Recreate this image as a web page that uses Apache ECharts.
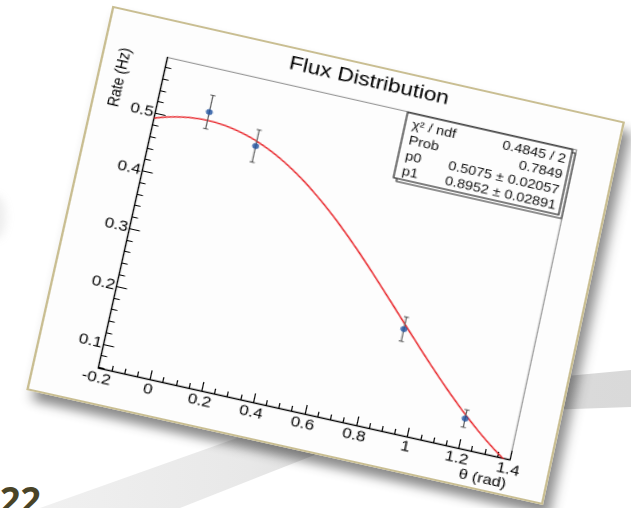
<!DOCTYPE html>
<html><head><meta charset="utf-8">
<script src="https://cdn.jsdelivr.net/npm/echarts@6/dist/echarts.min.js"></script>
<style>
html,body{margin:0;padding:0;width:631px;height:508px;overflow:hidden;background:#fff;position:relative;}
.sw{position:absolute;left:0;top:0;width:631px;height:508px;}
#swR{background:linear-gradient(to right,#e8e8e8,#d9d9d9);clip-path:polygon(545px 378px,631px 370px,631px 407px,545px 410px);}
#swL{background:linear-gradient(to right,#f2f2f2 0px,#e8e8e8 250px,#dedede 340px);clip-path:polygon(40px 508px,330px 405px,340px 445px,180px 508px);}
#blob{position:absolute;left:-14px;top:195px;width:20px;height:44px;border-radius:50%;background:rgba(120,120,120,0.13);filter:blur(4px);}
#num{position:absolute;left:0;top:482px;font:bold 36px "Open Sans","DejaVu Sans",sans-serif;line-height:36px;color:#4a4427;}
#paper{position:absolute;left:0;top:0;width:450px;height:392px;transform-origin:0 0;background:#fdfdfd;box-shadow:7px 9px 10px rgba(0,0,0,0.45);}
#chart{position:absolute;left:0;top:0;width:450px;height:392px;}
#frame{position:absolute;left:0;top:0;width:450px;height:392px;border:2px solid #c9be92;box-sizing:border-box;pointer-events:none;}
</style></head>
<body>
<div class="sw" id="swR"></div>
<div class="sw" id="swL"></div>
<div id="blob"></div>
<div id="num">22</div>
<div id="paper"><div id="chart"></div><div id="frame"></div></div>
<script>
// ---- data ----
const pointTheta = [0.0, 0.2, 0.9, 1.2];
const pointRate  = [0.522, 0.483, 0.235, 0.110];
const rateErr    = [0.029, 0.028, 0.021, 0.015];

const curveTheta = [-0.2,-0.15,-0.1,-0.05,0,0.05,0.1,0.15,0.2,0.25,0.3,0.35,0.4,0.45,0.5,0.55,0.6,0.65,0.7,0.75,0.8,0.85,0.9,0.95,1.0,1.05,1.1,1.15,1.2,1.25,1.3,1.35,1.4];
const curveRate  = [0.4914,0.4984,0.5034,0.5065,0.5075,0.5065,0.5034,0.4984,0.4914,0.4825,0.4718,0.4593,0.4452,0.4295,0.4124,0.3941,0.3746,0.3542,0.3330,0.3111,0.2888,0.2663,0.2436,0.2211,0.1988,0.1770,0.1558,0.1354,0.1159,0.0976,0.0805,0.0648,0.0506];

const yMajorTicks = [0.1, 0.2, 0.3, 0.4, 0.5];
const yMinorTicks = [0.06,0.08,0.12,0.14,0.16,0.18,0.22,0.24,0.26,0.28,0.32,0.34,0.36,0.38,0.42,0.44,0.46,0.48,0.52,0.54,0.56,0.58];
const statLabels = ['\u03c7\u00b2 / ndf', 'Prob', 'p0', 'p1'];
const statValues = ['0.4845 / 2', '0.7849', '0.5075 \u00b1 0.02057', '0.8952 \u00b1 0.02891'];

// ---- perspective placement of the "paper" ----
function solve(A,b){const n=b.length;for(let i=0;i<n;i++){let m=i;for(let r=i+1;r<n;r++)if(Math.abs(A[r][i])>Math.abs(A[m][i]))m=r;[A[i],A[m]]=[A[m],A[i]];[b[i],b[m]]=[b[m],b[i]];for(let r=i+1;r<n;r++){const f=A[r][i]/A[i][i];for(let c=i;c<n;c++)A[r][c]-=f*A[i][c];b[r]-=f*b[i];}}const x=new Array(n).fill(0);for(let i=n-1;i>=0;i--){let s=b[i];for(let c=i+1;c<n;c++)s-=A[i][c]*x[c];x[i]=s/A[i][i];}return x;}
function homography(src,dst){const A=[],b=[];for(let i=0;i<4;i++){const [x,y]=src[i],[X,Y]=dst[i];A.push([x,y,1,0,0,0,-x*X,-y*X]);b.push(X);A.push([0,0,0,x,y,1,-x*Y,-y*Y]);b.push(Y);}return solve(A,b);}
const PW=450, PH=392;
const h=homography([[0,0],[PW,0],[PW,PH],[0,PH]],[[112.3,5.7],[625,121.7],[543,505],[26.2,390]]);
document.getElementById('paper').style.transform='matrix3d('+[h[0],h[3],0,h[6],h[1],h[4],0,h[7],0,0,1,0,h[2],h[5],0,1].join(',')+')';

// ---- chart ----
const FONT='"Liberation Sans", Arial, Helvetica, sans-serif';
const chart=echarts.init(document.getElementById('chart'),null,{renderer:'canvas',devicePixelRatio:2});
const G={left:55.6,right:35.7,top:38.4,bottom:37};
const boxL=266, boxT=39, boxW=145, boxH=67;
const rowY=[50.5,66.5,82.5,98];
const statGraphics=[
 {type:'rect',shape:{x:boxL+3,y:boxT+3,width:boxW,height:boxH},style:{fill:'none',stroke:'#222',lineWidth:1},z:10},
 {type:'rect',shape:{x:boxL,y:boxT,width:boxW,height:boxH},style:{fill:'#fdfdfd',stroke:'#000',lineWidth:1},z:11}
];
statLabels.forEach((t,i)=>statGraphics.push({type:'text',x:boxL+6,y:rowY[i],z:12,style:{text:t,fill:'#111',font:'12.5px '+FONT,textAlign:'left',textVerticalAlign:'middle'}}));
statValues.forEach((t,i)=>statGraphics.push({type:'text',x:boxL+boxW-4,y:rowY[i],z:12,style:{text:t,fill:'#111',font:'12.5px '+FONT,textAlign:'right',textVerticalAlign:'middle'}}));

chart.setOption({
 animation:false,
 backgroundColor:'transparent',
 title:{text:'Flux Distribution',left:223,top:2,textAlign:'center',textStyle:{fontSize:19.5,fontWeight:'normal',color:'#000',fontFamily:FONT}},
 grid:{left:G.left,right:G.right,top:G.top,bottom:G.bottom,show:true,borderColor:'#8a8a8a',borderWidth:1,backgroundColor:'transparent'},
 xAxis:{type:'value',min:-0.2,max:1.4,interval:0.2,
   axisLine:{show:true,onZero:false,lineStyle:{color:'#000',width:1.2}},
   axisTick:{show:true,inside:true,length:9,lineStyle:{color:'#000',width:1}},
   minorTick:{show:true,splitNumber:4,length:5,lineStyle:{color:'#000',width:1}},
   splitLine:{show:false},minorSplitLine:{show:false},
   axisLabel:{margin:3,color:'#000',fontSize:14.5,fontFamily:FONT}},
 yAxis:[
  {type:'value',min:0.059,max:0.597,position:'left',
   axisLine:{show:true,onZero:false,lineStyle:{color:'#000',width:1.2}},
   axisTick:{show:true,inside:true,length:9,customValues:yMajorTicks,lineStyle:{color:'#000'}},
   axisLabel:{margin:1.5,color:'#000',fontSize:14.5,fontFamily:FONT,customValues:yMajorTicks},
   splitLine:{show:false}},
  {type:'value',min:0.059,max:0.597,position:'left',offset:0,
   axisLine:{show:false,onZero:false},
   axisTick:{show:true,inside:true,length:5,customValues:yMinorTicks,lineStyle:{color:'#000'}},
   axisLabel:{show:false},splitLine:{show:false}}
 ],
 graphic:[
  {type:'text',x:19.8,y:G.top,rotation:Math.PI/2,style:{text:'Rate (Hz)',fill:'#000',font:'14px '+FONT,textAlign:'right',textVerticalAlign:'middle'}},
  {type:'text',x:PW-G.right+1,y:380,style:{text:'\u03b8 (rad)',fill:'#000',font:'14px '+FONT,textAlign:'right',textVerticalAlign:'middle'}}
 ].concat(statGraphics),
 series:[
  {type:'line',xAxisIndex:0,yAxisIndex:0,data:curveTheta.map((t,i)=>[t,curveRate[i]]),smooth:true,symbol:'none',clip:true,
   lineStyle:{color:'#e8262b',width:1.4},z:3},
  {type:'custom',xAxisIndex:0,yAxisIndex:0,z:4,
   data:pointTheta.map((t,i)=>[t,pointRate[i],rateErr[i]]),
   renderItem:function(params,api){
     const x=api.value(0),y=api.value(1),e=api.value(2);
     const a=api.coord([x,y+e]),b=api.coord([x,y-e]);const c=2.2;
     const st={stroke:'#555',lineWidth:1};
     return {type:'group',children:[
       {type:'line',shape:{x1:a[0],y1:a[1],x2:b[0],y2:b[1]},style:st},
       {type:'line',shape:{x1:a[0]-c,y1:a[1],x2:a[0]+c,y2:a[1]},style:st},
       {type:'line',shape:{x1:b[0]-c,y1:b[1],x2:b[0]+c,y2:b[1]},style:st}
     ]};
   }},
  {type:'scatter',xAxisIndex:0,yAxisIndex:0,z:5,data:pointTheta.map((t,i)=>[t,pointRate[i]]),
   symbol:'circle',symbolSize:6,itemStyle:{color:'#1c4f9e'}}
 ]
});
</script>
</body></html>
